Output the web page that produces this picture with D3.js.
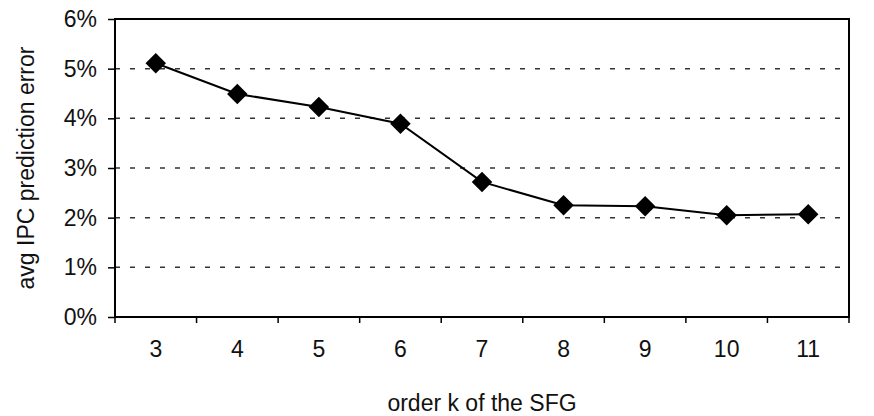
<!DOCTYPE html>
<html>
<head>
<meta charset="utf-8">
<script src="https://cdn.jsdelivr.net/npm/d3@7"></script>
<style>
  body { margin: 0; background: #fff; }
  text { font-family: "Liberation Sans", Arial, sans-serif; fill: #111; }
</style>
</head>
<body>
<svg id="chart" width="874" height="416"></svg>
<script>
// data
const orders = ["3", "4", "5", "6", "7", "8", "9", "10", "11"];
const ipcError = [0.0511, 0.0449, 0.0423, 0.0389, 0.0272, 0.0225, 0.0223, 0.0205, 0.0207];
const yTicks = [0, 0.01, 0.02, 0.03, 0.04, 0.05, 0.06];

const svg = d3.select("#chart");
const margin = { top: 19, right: 25, bottom: 99, left: 115 };
const width = +svg.attr("width") - margin.left - margin.right;
const height = +svg.attr("height") - margin.top - margin.bottom;
const fontSize = 23;

const x = d3.scaleBand().domain(orders).range([0, width]);
const y = d3.scaleLinear().domain([0, 0.06]).range([height, 0]);

const g = svg.append("g").attr("transform", `translate(${margin.left},${margin.top})`);

// dashed gridlines
g.selectAll(".grid")
  .data(yTicks.filter(d => d > 0 && d < 0.06))
  .enter()
  .append("line")
  .attr("x1", 0)
  .attr("x2", width)
  .attr("y1", d => y(d))
  .attr("y2", d => y(d))
  .attr("stroke", "#333")
  .attr("stroke-width", 1.5)
  .attr("stroke-dasharray", "5,10");

// y axis
const yAxis = g.append("g")
  .call(d3.axisLeft(y).tickValues(yTicks).tickFormat(d3.format(".0%")).tickSizeInner(7).tickSizeOuter(0).tickPadding(11));
yAxis.select(".domain").remove();
yAxis.selectAll("line").attr("stroke", "#000").attr("stroke-width", 1.5);
yAxis.selectAll("text").attr("font-size", fontSize).attr("font-family", null);

// x axis: ticks sit on band edges
const xAxis = g.append("g")
  .attr("transform", `translate(0,${height})`)
  .call(d3.axisBottom(x).tickSize(0).tickPadding(24));
xAxis.select(".domain").remove();
xAxis.selectAll("text").attr("font-size", fontSize).attr("font-family", null);
xAxis.selectAll(".edge")
  .data(orders.map(d => x(d)).concat([width]))
  .enter()
  .append("line")
  .attr("class", "edge")
  .attr("x1", d => d)
  .attr("x2", d => d)
  .attr("y1", 0)
  .attr("y2", 6)
  .attr("stroke", "#000")
  .attr("stroke-width", 1.5);

// frame
g.append("rect")
  .attr("width", width)
  .attr("height", height)
  .attr("fill", "none")
  .attr("stroke", "#000")
  .attr("stroke-width", 2);

// line + markers
const pts = orders.map((d, i) => ({ k: d, v: ipcError[i] }));
const line = d3.line()
  .x(d => x(d.k) + x.bandwidth() / 2)
  .y(d => y(d.v));

g.append("path")
  .datum(pts)
  .attr("d", line)
  .attr("fill", "none")
  .attr("stroke", "#000")
  .attr("stroke-width", 2);

g.selectAll(".pt")
  .data(pts)
  .enter()
  .append("path")
  .attr("class", "pt")
  .attr("d", d3.symbol(d3.symbolSquare, 210))
  .attr("transform", d => `translate(${x(d.k) + x.bandwidth() / 2},${y(d.v)}) rotate(45)`)
  .attr("fill", "#000");

// axis titles
svg.append("text")
  .attr("x", margin.left + width / 2)
  .attr("y", 411)
  .attr("text-anchor", "middle")
  .attr("font-size", fontSize)
  .text("order k of the SFG");

svg.append("text")
  .attr("transform", `translate(34,${margin.top + height / 2}) rotate(-90)`)
  .attr("text-anchor", "middle")
  .attr("font-size", fontSize)
  .text("avg IPC prediction error");
</script>
</body>
</html>
